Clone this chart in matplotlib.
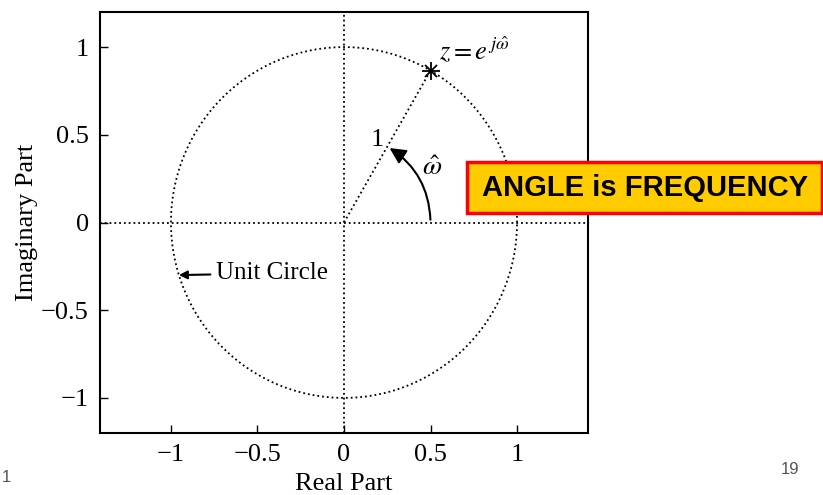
import numpy as np
import matplotlib.pyplot as plt
from matplotlib.patches import FancyArrowPatch, Rectangle

# data
omega_hat = np.pi / 3
z_point = (np.cos(omega_hat), np.sin(omega_hat))
theta = np.linspace(0, 2 * np.pi, 400)
circle_x = np.cos(theta)
circle_y = np.sin(theta)
xticks = [-1, -0.5, 0, 0.5, 1]
yticks = [-1, -0.5, 0, 0.5, 1]
tick_labels = ['\u22121', '\u22120.5', '0', '0.5', '1']

plt.rcParams['font.family'] = ['Liberation Serif', 'DejaVu Serif']
plt.rcParams['mathtext.fontset'] = 'stix'

fig = plt.figure(figsize=(8.23, 4.95), dpi=100)
ax = fig.add_axes([100 / 823, 62 / 495, 488 / 823, 421 / 495])

ax.plot(circle_x, circle_y, color='black', linestyle=':', linewidth=1.3)
ax.axhline(0, color='black', linestyle=':', linewidth=1.3)
ax.axvline(0, color='black', linestyle=':', linewidth=1.3)
ax.plot([0, z_point[0]], [0, z_point[1]], color='black', linestyle=':', linewidth=1.3)
ax.plot(z_point[0], z_point[1], marker='+', color='black', markersize=13,
        markeredgewidth=1.3, linestyle='none')
ax.plot(z_point[0], z_point[1], marker='x', color='black', markersize=9,
        markeredgewidth=1.3, linestyle='none')

# angle arc
arc = FancyArrowPatch((0.5, 0), (0.5 * np.cos(omega_hat), 0.5 * np.sin(omega_hat)),
                      connectionstyle='arc3,rad=0.27', arrowstyle='-|>',
                      mutation_scale=24, color='black', linewidth=1.5)
ax.add_patch(arc)

ax.text(0.55, 0.98, r'$z = e^{\,j\hat{\omega}}$', fontsize=19, ha='left', va='center')
ax.text(0.19, 0.47, '1', fontsize=19, ha='center', va='center')
ax.text(0.51, 0.31, r'$\hat{\omega}$', fontsize=20, ha='center', va='center')
ax.annotate('Unit Circle', xy=(-0.97, -0.3), xytext=(-0.74, -0.29),
            fontsize=18, va='center', ha='left',
            arrowprops=dict(arrowstyle='-|>', color='black', lw=1.5, mutation_scale=12))

ax.set_xlim(-1.41, 1.41)
ax.set_ylim(-1.2, 1.2)
ax.set_xticks(xticks)
ax.set_xticklabels(tick_labels)
ax.set_yticks(yticks)
ax.set_yticklabels(tick_labels)
ax.tick_params(direction='in', length=6, width=1, labelsize=19, pad=8)
for s in ax.spines.values():
    s.set_linewidth(1.5)
ax.set_xlabel('Real Part', fontsize=19, labelpad=5)
ax.set_ylabel('Imaginary Part', fontsize=19, labelpad=2)

# highlighted caption box
fig.patches.append(Rectangle((467 / 823, 1 - 213 / 495), 355 / 823, 51 / 495,
                             transform=fig.transFigure, facecolor='#FFCC00',
                             edgecolor='#FF0000', linewidth=2.5))
fig.text(645 / 823, 1 - 188 / 495, 'ANGLE is FREQUENCY', fontsize=21, fontweight='bold',
         family=['Liberation Sans', 'DejaVu Sans'], ha='center', va='center')

fig.text(2 / 823, 1 - 478 / 495, '1', fontsize=12, color='#555555', family='Liberation Sans', va='center')
fig.text(790 / 823, 1 - 470 / 495, '19', fontsize=12, color='#555555', family='Liberation Sans',
         va='center', ha='center')

fig.savefig('out.png', dpi=100)
